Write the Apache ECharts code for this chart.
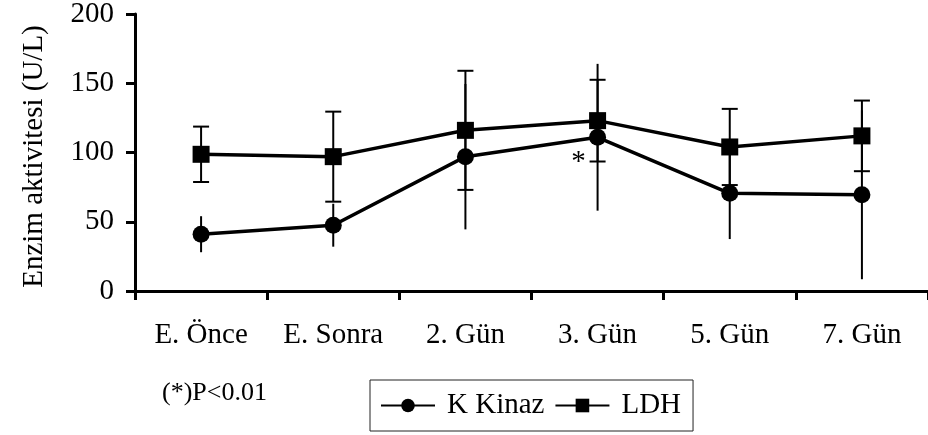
<!DOCTYPE html>
<html>
<head>
<meta charset="utf-8">
<script src="https://cdn.jsdelivr.net/npm/echarts@6/dist/echarts.min.js"></script>
<style>
  html, body { margin: 0; padding: 0; background: #fff; }
  #chart { width: 928px; height: 435px; }
</style>
</head>
<body>
<div id="chart"></div>
<script>
// Enzyme activity (mean ± SD) over the sampling days
const categories = ['E. Önce', 'E. Sonra', '2. Gün', '3. Gün', '5. Gün', '7. Gün'];
const ckMean = [41, 47.5, 97, 111, 70.5, 69.5];
const ckSd = [13, 15.5, 52.5, 53, 33, 61];
const ldhMean = [98.7, 97, 116, 123, 104, 112];
const ldhSd = [20, 32.5, 43, 29.5, 27.5, 25.5];
const ckSignificant = [false, false, false, true, false, false];
const yTicks = [0, 50, 100, 150, 200];
const seriesNames = ['K Kinaz', 'LDH'];
const yTitle = 'Enzim aktivitesi (U/L)';
const noteText = '(*)P<0.01';

const FONT = '"Liberation Serif", "Times New Roman", serif';
const INK = '#000';

// Vertical error bars; optional caps of the given half-width
function errorBars(means, sds, capHalf) {
  return {
    type: 'custom',
    silent: true,
    z: 1,
    encode: { x: 0, y: [1, 2] },
    data: means.map((m, i) => [i, m - sds[i], m + sds[i]]),
    renderItem(params, api) {
      const lo = api.coord([api.value(0), api.value(1)]);
      const hi = api.coord([api.value(0), api.value(2)]);
      const style = { stroke: INK, lineWidth: 2 };
      const children = [
        { type: 'line', shape: { x1: lo[0], y1: lo[1], x2: hi[0], y2: hi[1] }, style }
      ];
      if (capHalf) {
        children.push(
          { type: 'line', shape: { x1: lo[0] - capHalf, y1: lo[1], x2: lo[0] + capHalf, y2: lo[1] }, style },
          { type: 'line', shape: { x1: hi[0] - capHalf, y1: hi[1], x2: hi[0] + capHalf, y2: hi[1] }, style }
        );
      }
      return { type: 'group', children };
    }
  };
}

const chart = echarts.init(document.getElementById('chart'), null, { renderer: 'canvas' });

chart.setOption({
  animation: false,
  backgroundColor: '#fff',
  textStyle: { fontFamily: FONT, color: INK },
  grid: { left: 135, right: 0, top: 14, bottom: 144, containLabel: false, outerBoundsMode: 'none' },
  legend: {
    data: seriesNames,
    left: 370,
    top: 380,
    orient: 'horizontal',
    itemWidth: 54,
    itemHeight: 17,
    itemGap: 10,
    padding: [9, 12, 9, 10],
    borderColor: '#222',
    borderWidth: 1,
    backgroundColor: '#fff',
    textStyle: { fontFamily: FONT, fontSize: 29, color: INK, padding: [2, 0, 0, 7], lineHeight: 31 }
  },
  xAxis: {
    type: 'category',
    data: categories,
    boundaryGap: true,
    axisLine: { show: true, lineStyle: { color: INK, width: 3 } },
    axisTick: { show: true, length: 9, lineStyle: { color: INK, width: 3 } },
    axisLabel: { color: INK, fontFamily: FONT, fontSize: 29, margin: 30, interval: 0 },
    splitLine: { show: false }
  },
  yAxis: {
    type: 'value',
    min: yTicks[0],
    max: yTicks[yTicks.length - 1],
    interval: yTicks[1] - yTicks[0],
    name: yTitle,
    nameLocation: 'middle',
    nameGap: 86,
    nameTextStyle: { fontFamily: FONT, fontSize: 29, color: INK, padding: [0, 8, 0, 0] },
    axisLine: { show: true, lineStyle: { color: INK, width: 3 } },
    axisTick: { show: true, length: 9, lineStyle: { color: INK, width: 3 } },
    axisLabel: { color: INK, fontFamily: FONT, fontSize: 29, margin: 21 },
    splitLine: { show: false }
  },
  graphic: [
    {
      type: 'text',
      left: 162,
      top: 380,
      style: { text: noteText, fontFamily: FONT, fontSize: 26, fill: INK }
    }
  ],
  series: [
    errorBars(ckMean, ckSd, 0),
    errorBars(ldhMean, ldhSd, 8),
    {
      name: seriesNames[0],
      type: 'line',
      z: 3,
      data: ckMean,
      symbol: 'circle',
      symbolSize: 17,
      showAllSymbol: true,
      lineStyle: { color: INK, width: 3.5 },
      itemStyle: { color: INK },
      label: {
        show: true,
        position: 'inside',
        offset: [-19, 25],
        fontFamily: FONT,
        fontSize: 29,
        color: INK,
        formatter: p => (ckSignificant[p.dataIndex] ? '*' : '')
      }
    },
    {
      name: seriesNames[1],
      type: 'line',
      z: 3,
      data: ldhMean,
      symbol: 'rect',
      symbolSize: 17,
      showAllSymbol: true,
      lineStyle: { color: INK, width: 3.5 },
      itemStyle: { color: INK }
    }
  ]
});
</script>
</body>
</html>
